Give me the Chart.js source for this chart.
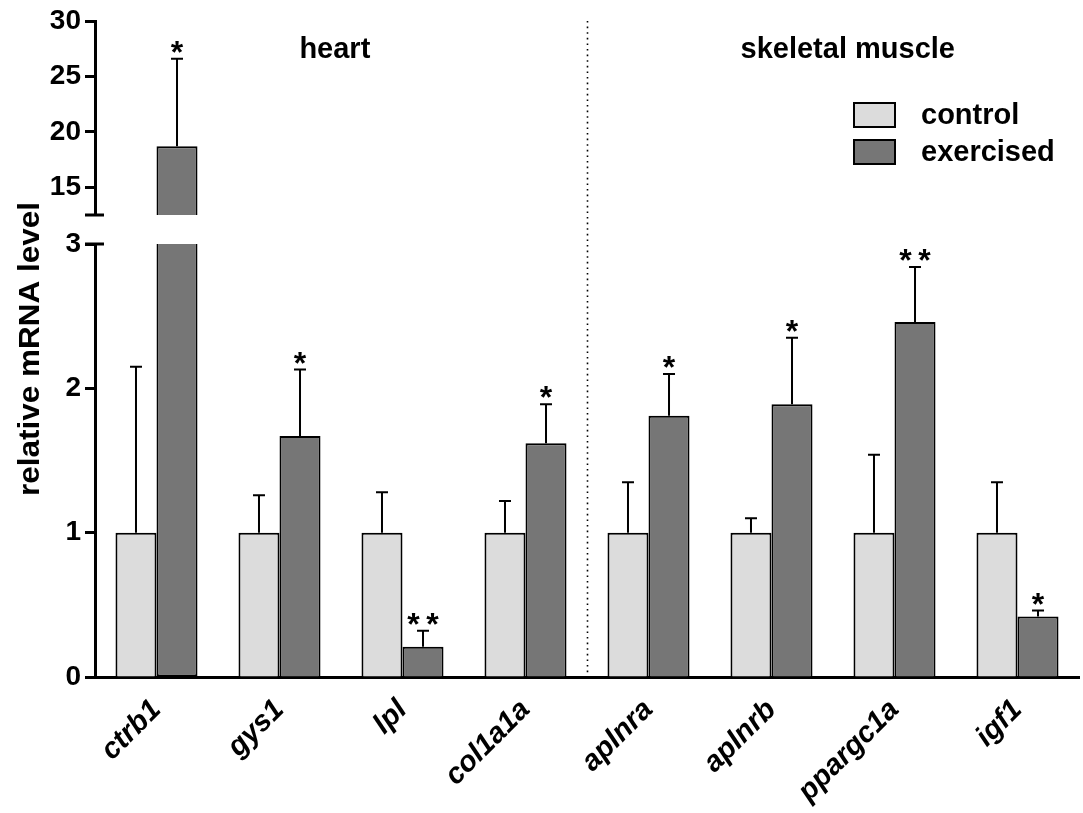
<!DOCTYPE html>
<html>
<head>
<meta charset="utf-8">
<script src="https://cdn.jsdelivr.net/npm/chart.js@4.4.0/dist/chart.umd.min.js"></script>
<style>
  html, body { margin: 0; padding: 0; background: #fff; }
  #chart { display: block; }
</style>
</head>
<body>
<canvas id="chart" width="1083" height="813"></canvas>
<script>
// data
const genes = ['ctrb1', 'gys1', 'lpl', 'col1a1a', 'aplnra', 'aplnrb', 'ppargc1a', 'igf1'];
const controlMean = [1, 1, 1, 1, 1, 1, 1, 1];
const controlSD = [1.15, 0.26, 0.28, 0.22, 0.35, 0.10, 0.54, 0.35];
const exercisedMean = [18.7, 1.67, 0.21, 1.62, 1.81, 1.89, 2.46, 0.42];
const exercisedSD = [7.9, 0.46, 0.11, 0.27, 0.29, 0.46, 0.38, 0.04];
const significance = ['*', '*', '**', '*', '*', '*', '**', '*'];
const seriesNames = ['control', 'exercised'];
const tissues = ['heart', 'skeletal muscle'];
const lowTicks = [0, 1, 2, 3];
const highTicks = [15, 20, 25, 30];

// broken axis ranges
const LOW_MIN = 0, LOW_MAX = 3;
const HIGH_MIN = 12.5, HIGH_MAX = 30;

const FONT = "'Liberation Sans', Arial, sans-serif";
const AXIS_X = 95;
const colors = ['#dcdcdc', '#767676'];

Chart.defaults.font.family = FONT;
Chart.defaults.color = '#000';

function yAxis(weight, min, max, tickValues) {
  return {
    type: 'linear',
    position: 'left',
    stack: 'y',
    stackWeight: weight,
    stacked: false,
    min, max,
    grid: { display: true, drawOnChartArea: false, drawTicks: true, tickLength: 10, tickWidth: 3, color: '#000' },
    border: { display: true, width: 3, color: '#000' },
    ticks: { font: { size: 28, weight: 'bold' }, color: '#000', padding: 4 },
    afterBuildTicks: s => { s.ticks = tickValues.map(v => ({ value: v })); },
    afterFit: s => { s.width = AXIS_X; }
  };
}

const extras = {
  id: 'extras',
  beforeDatasetsDraw(chart) {
    const { ctx, chartArea, scales } = chart;
    // dotted divider between heart and skeletal muscle
    const dx = Math.round(scales.x.getPixelForValue(3.5)) + 0.5;
    ctx.save();
    ctx.strokeStyle = '#000';
    ctx.lineWidth = 1.6;
    ctx.setLineDash([1.6, 4]);
    ctx.beginPath();
    ctx.moveTo(dx, chartArea.top);
    ctx.lineTo(dx, chartArea.bottom);
    ctx.stroke();
    ctx.restore();
  },
  afterDatasetsDraw(chart) {
    const { ctx, chartArea, scales } = chart;
    const yLow = scales.yLow, yHigh = scales.yHigh;
    const yPix = v => v > LOW_MAX ? yHigh.getPixelForValue(v) : yLow.getPixelForValue(v);
    ctx.save();
    ctx.strokeStyle = '#000';
    ctx.fillStyle = '#000';

    // error bars (upper side only)
    const groups = [[0, controlMean, controlSD], [1, exercisedMean, exercisedSD]];
    const capTops = [];
    groups.forEach(([di, mean, sd]) => {
      const meta = chart.getDatasetMeta(di);
      mean.forEach((m, i) => {
        const bx = meta.data[i].x;
        const y0 = yPix(m);
        const y1 = yPix(m + sd[i]);
        ctx.lineWidth = 2;
        ctx.beginPath();
        ctx.moveTo(bx, y0);
        ctx.lineTo(bx, y1);
        ctx.moveTo(bx - 6, y1);
        ctx.lineTo(bx + 6, y1);
        ctx.stroke();
        if (di === 1) capTops[i] = { x: bx, y: y1 };
      });
    });

    // significance stars
    ctx.font = 'bold 32px ' + FONT;
    ctx.textAlign = 'center';
    ctx.textBaseline = 'alphabetic';
    significance.forEach((s, i) => {
      const c = capTops[i];
      const n = s.length;
      for (let k = 0; k < n; k++) {
        ctx.fillText('*', c.x + (k - (n - 1) / 2) * 19, c.y + 4);
      }
    });

    // break caps on the y axis
    const ax = yLow.right;
    ctx.lineWidth = 3;
    [yHigh.getPixelForValue(HIGH_MIN), yLow.getPixelForValue(LOW_MAX)].forEach(py => {
      ctx.beginPath();
      ctx.moveTo(ax - 10, py);
      ctx.lineTo(ax + 9, py);
      ctx.stroke();
    });

    // tissue headings
    ctx.font = 'bold 29px ' + FONT;
    ctx.textBaseline = 'alphabetic';
    ctx.fillText(tissues[0], scales.x.getPixelForValue(1.45), 58);
    ctx.fillText(tissues[1], scales.x.getPixelForValue(5.62), 58);

    // legend
    ctx.font = 'bold 29px ' + FONT;
    ctx.textAlign = 'left';
    ctx.textBaseline = 'middle';
    seriesNames.forEach((name, k) => {
      const top = 103 + k * 37;
      ctx.fillStyle = colors[k];
      ctx.fillRect(854, top, 41, 24);
      ctx.lineWidth = 2;
      ctx.strokeRect(854, top, 41, 24);
      ctx.fillStyle = '#000';
      ctx.fillText(name, 921, top + 13);
    });

    // y axis title
    ctx.save();
    ctx.translate(31, (chartArea.top + chartArea.bottom) / 2);
    ctx.rotate(-Math.PI / 2);
    ctx.font = 'bold 30px ' + FONT;
    ctx.textAlign = 'center';
    ctx.textBaseline = 'middle';
    ctx.scale(1.05, 1);
    ctx.fillText('relative mRNA level', 0, 0);
    ctx.restore();

    ctx.restore();
  }
};

new Chart(document.getElementById('chart'), {
  type: 'bar',
  data: {
    labels: genes,
    datasets: [
      {
        label: seriesNames[0],
        data: controlMean,
        yAxisID: 'yLow',
        stack: 'c',
        backgroundColor: colors[0],
        borderColor: '#000',
        borderWidth: 2,
        borderSkipped: 'start'
      },
      {
        label: seriesNames[1],
        data: exercisedMean.map(v => Math.min(v, LOW_MAX)),
        yAxisID: 'yLow',
        stack: 'e',
        backgroundColor: colors[1],
        borderColor: '#000',
        borderWidth: 2,
        borderSkipped: c => exercisedMean[c.dataIndex] > LOW_MAX ? 'top' : 'start'
      },
      {
        label: seriesNames[1] + ' (upper)',
        data: exercisedMean.map(v => v > LOW_MAX ? v : null),
        yAxisID: 'yHigh',
        stack: 'e',
        base: HIGH_MIN,
        backgroundColor: colors[1],
        borderColor: '#000',
        borderWidth: 2,
        borderSkipped: 'start'
      }
    ]
  },
  options: {
    responsive: false,
    animation: false,
    events: [],
    categoryPercentage: 0.667,
    barPercentage: 1.0,
    layout: { padding: { top: 21, right: 4, bottom: 0, left: 0 } },
    plugins: { legend: { display: false }, tooltip: { enabled: false } },
    scales: {
      x: {
        type: 'category',
        grid: { display: false },
        border: { display: true, width: 3, color: '#000' },
        ticks: {
          autoSkip: false,
          maxRotation: 45,
          minRotation: 45,
          padding: 8,
          color: '#000',
          font: { size: 29, weight: 'bold', style: 'italic' }
        },
        afterFit: s => { s.height = 136; }
      },
      yLow: yAxis(433, LOW_MIN, LOW_MAX, lowTicks),
      yGap: {
        type: 'linear',
        position: 'left',
        stack: 'y',
        stackWeight: 29,
        grid: { display: false },
        border: { display: false },
        ticks: { display: false },
        afterFit: s => { s.width = AXIS_X; }
      },
      yHigh: yAxis(194, HIGH_MIN, HIGH_MAX, highTicks)
    }
  },
  plugins: [extras]
});
</script>
</body>
</html>
